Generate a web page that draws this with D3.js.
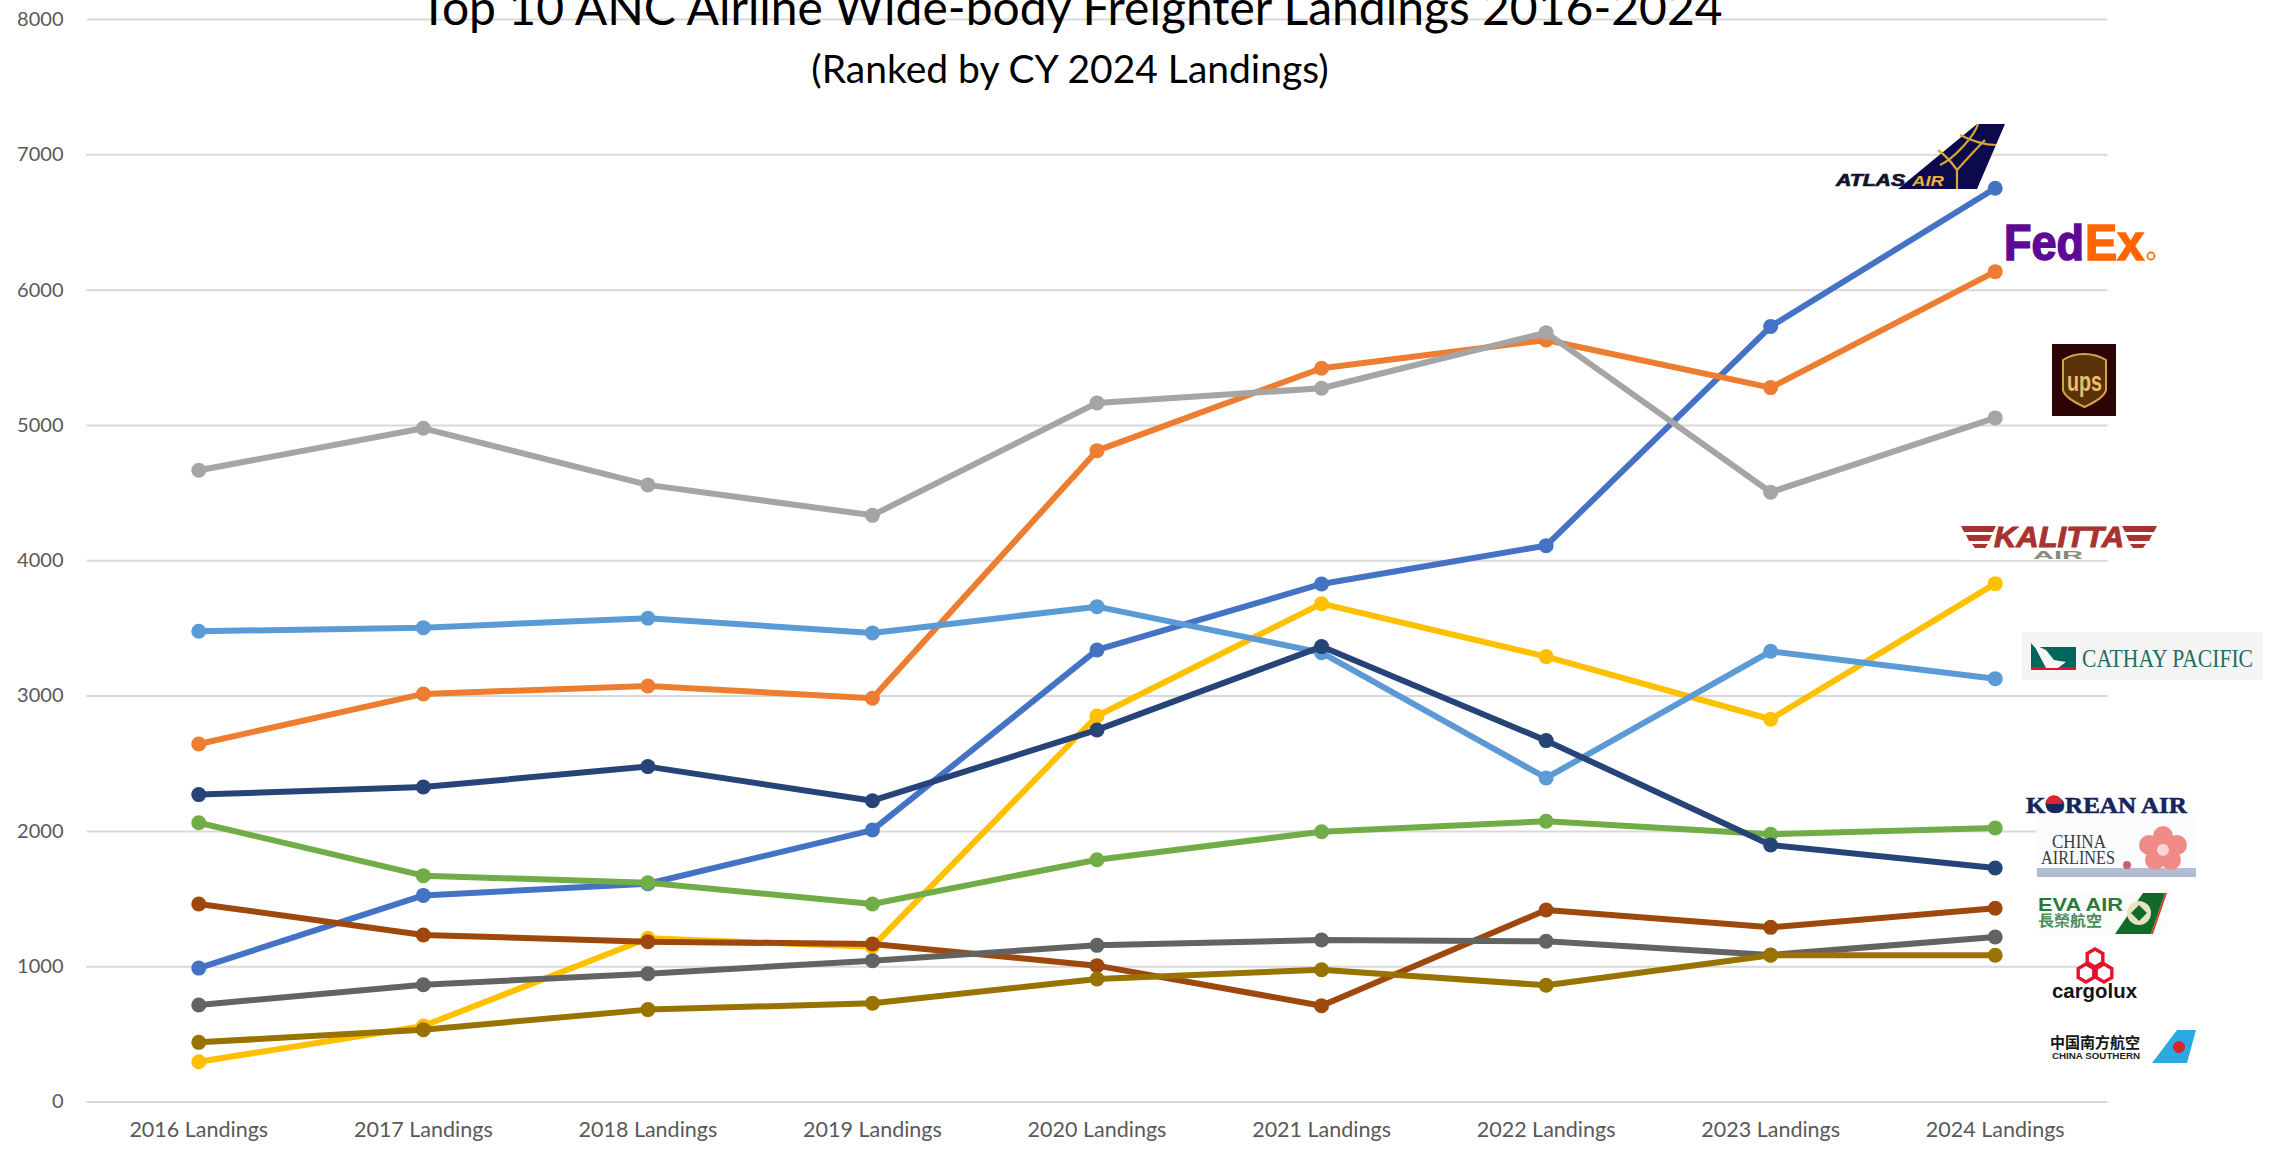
<!DOCTYPE html>
<html>
<head>
<meta charset="utf-8">
<title>Top 10 ANC Airline Wide-body Freighter Landings 2016-2024</title>
<script src="https://cdnjs.cloudflare.com/ajax/libs/d3/7.8.5/d3.min.js"></script>
<style>
html, body { margin: 0; padding: 0; background: #fff; overflow: hidden; }
svg { display: block; }
text { font-family: Lato, sans-serif; }
</style>
</head>
<body>
<svg width="2279" height="1153"></svg>
<script>
var years = ["2016 Landings", "2017 Landings", "2018 Landings", "2019 Landings", "2020 Landings", "2021 Landings", "2022 Landings", "2023 Landings", "2024 Landings"];
var yTicks = [0, 1000, 2000, 3000, 4000, 5000, 6000, 7000, 8000];

// drawn in this order
var atlas = [986, 1523, 1609, 2006, 3337, 3825, 4108, 5727, 6749];
var fedex = [2642, 3012, 3071, 2980, 4810, 5419, 5628, 5276, 6133];
var ups = [4665, 4975, 4557, 4332, 5163, 5271, 5682, 4503, 5052];
var kalitta = [294, 558, 1206, 1144, 2849, 3679, 3288, 2825, 3827];
var cathay = [3475, 3502, 3571, 3463, 3657, 3317, 2391, 3327, 3125];
var korean = [2060, 1669, 1617, 1460, 1787, 1994, 2071, 1975, 2021];
var chinaAirlines = [2268, 2324, 2475, 2223, 2746, 3362, 2667, 1896, 1726];
var eva = [1460, 1231, 1181, 1164, 1004, 708, 1415, 1287, 1428];
var cargolux = [713, 863, 945, 1041, 1154, 1194, 1184, 1083, 1216];
var chinaSouthern = [437, 531, 679, 726, 905, 974, 859, 1081, 1081];

var seriesNames = ["Atlas Air", "FedEx", "UPS", "Kalitta Air", "Cathay Pacific", "Korean Air", "China Airlines", "EVA Air", "Cargolux", "China Southern"];
var seriesValues = [atlas, fedex, ups, kalitta, cathay, korean, chinaAirlines, eva, cargolux, chinaSouthern];
var seriesColors = ["#4472c4", "#ed7d31", "#a5a5a5", "#ffc000", "#5b9bd5", "#70ad47", "#264478", "#9e480e", "#636363", "#997300"];

var svg = d3.select("svg");
var plotLeft = 86.5, plotRight = 2107.5, plotTop = 19, plotBottom = 1101.5;
var plotWidth = plotRight - plotLeft;

var x = d3.scaleBand().domain(years).range([plotLeft, plotRight]);
var y = d3.scaleLinear().domain([0, 8000]).range([plotBottom, plotTop]);

// gridlines come from the y axis ticks
var yAxis = svg.append("g")
    .attr("transform", "translate(" + plotLeft + ",0)")
    .call(d3.axisLeft(y).tickValues(yTicks).tickFormat(d3.format("d")).tickSize(-plotWidth).tickPadding(23));
yAxis.select(".domain").remove();
yAxis.selectAll("line").attr("stroke", "#d9d9d9").attr("stroke-width", 2);
yAxis.selectAll("text").style("font-size", "20px").style("fill", "#595959").style("font-family", "Lato, sans-serif");

var xAxis = svg.append("g")
    .attr("transform", "translate(0," + plotBottom + ")")
    .call(d3.axisBottom(x).tickSize(0).tickPadding(20));
xAxis.select(".domain").remove();
xAxis.selectAll("text").style("font-size", "21.5px").style("fill", "#595959").style("font-family", "Lato, sans-serif");

svg.append("text")
    .attr("x", 1071).attr("y", 25)
    .attr("text-anchor", "middle")
    .style("font-size", "48px")
    .text("Top 10 ANC Airline Wide-body Freighter Landings 2016-2024");

svg.append("text")
    .attr("x", 1070).attr("y", 83)
    .attr("text-anchor", "middle")
    .style("font-size", "39px")
    .text("(Ranked by CY 2024 Landings)");

var line = d3.line()
    .x(function(d, i) { return x(years[i]) + x.bandwidth() / 2; })
    .y(function(d) { return y(d); });

var series = svg.selectAll(".series")
    .data(seriesValues)
    .enter()
    .append("g")
    .attr("class", "series")
    .attr("data-name", function(d, i) { return seriesNames[i]; });

series.append("path")
    .attr("d", line)
    .attr("fill", "none")
    .attr("stroke", function(d, i) { return seriesColors[i]; })
    .attr("stroke-width", 6)
    .attr("stroke-linejoin", "round")
    .attr("stroke-linecap", "round");

series.each(function(values, s) {
    d3.select(this).selectAll("circle")
        .data(values)
        .enter()
        .append("circle")
        .attr("cx", function(d, i) { return x(years[i]) + x.bandwidth() / 2; })
        .attr("cy", function(d) { return y(d); })
        .attr("r", 7.5)
        .attr("fill", seriesColors[s]);
});

// airline logos, redrawn by hand next to the last points
var logos = svg.append("g").attr("class", "logos");

function poly(points, fill) {
    return logos.append("polygon").attr("points", points).attr("fill", fill);
}
function box(px, py, w, h, fill) {
    return logos.append("rect").attr("x", px).attr("y", py).attr("width", w).attr("height", h).attr("fill", fill);
}
function label(str, px, py, size, fill, font, weight, len) {
    var t = logos.append("text")
        .attr("x", px).attr("y", py)
        .style("font-family", font)
        .style("font-size", size + "px")
        .style("font-weight", weight)
        .style("fill", fill)
        .text(str);
    if (len) { t.attr("textLength", len).attr("lengthAdjust", "spacingAndGlyphs"); }
    return t;
}
function strokeLine(d, color, w) {
    return logos.append("path").attr("d", d).attr("fill", "none").attr("stroke", color).attr("stroke-width", w);
}
var sans = "'Liberation Sans', sans-serif";
var serif = "'Liberation Serif', serif";

// Atlas Air
poly("1898,189 1977,124 2005,124 1977,189", "#0c0a4c");
strokeLine("M1957,189 L1957,170 C1950,160 1945,155 1938,150 M1957,170 C1966,160 1975,150 1985,140 M1940,165 C1955,158 1975,135 1978,124 M1960,135 C1970,140 1985,145 1996,145", "#d9a62e", 2.2);
label("ATLAS", 1836, 186, 16, "#14122e", sans, "bold", 69).style("font-style", "italic").style("stroke", "#14122e").style("stroke-width", 0.7);
label("AIR", 1912, 186, 15, "#e8b23a", sans, "bold", 32).style("font-style", "italic");

// FedEx
label("Fed", 2004, 260, 50, "#5f0a96", sans, "bold", 80).style("stroke", "#5f0a96").style("stroke-width", 1.6);
label("Ex", 2085, 260, 50, "#ff6600", sans, "bold", 59).style("stroke", "#ff6600").style("stroke-width", 1.6);
logos.append("circle").attr("cx", 2151).attr("cy", 256).attr("r", 3.6).attr("fill", "none").attr("stroke", "#ff6600").attr("stroke-width", 1.6);

// UPS
box(2052, 344, 64, 72, "#2b0506");
logos.append("path")
    .attr("d", "M2063,360 C2075,352 2093,352 2106,360 L2106,390 C2104,398 2092,403 2084.5,407 C2077,403 2065,398 2063,390 Z")
    .attr("fill", "#5a3208").attr("stroke", "#d6a24a").attr("stroke-width", 2);
label("ups", 2067, 391, 27, "#e9bf6e", sans, "bold", 35);

// Kalitta Air
box(1959, 522, 199, 38, "#ffffff");
poly("1961,526 1996,526 1993,532 1964,532", "#a8322f");
poly("1966,535 1992,535 1989,541 1969,541", "#a8322f");
poly("1972,544 1988,544 1985,548 1975,548", "#a8322f");
poly("2157,526 2122,526 2125,532 2154,532", "#a8322f");
poly("2152,535 2126,535 2129,541 2149,541", "#a8322f");
poly("2146,544 2130,544 2133,548 2143,548", "#a8322f");
label("KALITTA", 1994, 547, 30, "#a8322f", sans, "bold", 130).style("font-style", "italic").style("stroke", "#a8322f").style("stroke-width", 1);
label("AIR", 2033, 559, 11, "#8a8a7a", sans, "bold", 50);

// Cathay Pacific
box(2022, 632, 241, 48, "#f5f5f5");
box(2031, 647, 45, 20, "#00655b");
box(2031, 667, 45, 3, "#e8102a");
poly("2031,643 2036,649 2046,668 2058,668 2066,662 2054,660 2046,650", "#f5f5f5");
poly("2031,643 2036,649 2033,667 2031,667", "#00655b");
label("CATHAY PACIFIC", 2082, 667, 25, "#1c6e66", serif, "normal", 171);

// Korean Air
label("KOREAN AIR", 2026, 813, 24, "#14265e", serif, "bold", 161).style("stroke", "#14265e").style("stroke-width", 0.6);
logos.append("circle").attr("cx", 2054).attr("cy", 804).attr("r", 8.5).attr("fill", "#14265e");
logos.append("path").attr("d", "M2045.5,804 A8.5,8.5 0 0 1 2062.5,804 Z").attr("fill", "#e2232e");

// China Airlines
box(2036, 814, 161, 65, "#fafcfd");
box(2037, 868, 159, 9, "#b3bdd2");
label("CHINA", 2052, 848, 18, "#3a3a40", serif, "normal", 54);
label("AIRLINES", 2041, 864, 18, "#3a3a40", serif, "normal", 74);
[[2163, 836], [2149, 845], [2177, 845], [2155, 860], [2171, 860]].forEach(function(p) {
    logos.append("circle").attr("cx", p[0]).attr("cy", p[1]).attr("r", 10).attr("fill", "#ef8a86");
});
logos.append("circle").attr("cx", 2163).attr("cy", 850).attr("r", 6).attr("fill", "#f8d5d3");
logos.append("circle").attr("cx", 2127).attr("cy", 865).attr("r", 4).attr("fill", "#c9606c");

// EVA Air
box(2038, 892, 129, 43, "#fbfdfb");
label("EVA AIR", 2038, 911, 19, "#2b7a3c", sans, "bold", 85);
label("長榮航空", 2038, 926, 15, "#4f8c5c", "'Noto Sans CJK TC', sans-serif", "bold", 64);
poly("2115,934 2143,893 2165,893 2151,934", "#0f6a2c");
poly("2165,893 2167,893 2153,934 2151,934", "#c8402e");
logos.append("circle").attr("cx", 2139).attr("cy", 913).attr("r", 12).attr("fill", "#e9e2c0");
poly("2139,905 2147,913 2139,921 2131,913", "#0f6a2c");

// Cargolux
box(2077, 945, 63, 58, "#ffffff");
[[2095, 958], [2086, 973], [2104, 973]].forEach(function(c) {
    var r = 9;
    var pts = d3.range(6).map(function(k) {
        var a = Math.PI / 3 * k + Math.PI / 6;
        return (c[0] + r * Math.cos(a)).toFixed(1) + "," + (c[1] + r * Math.sin(a)).toFixed(1);
    }).join(" ");
    poly(pts, "#ffffff").attr("stroke", "#e8112d").attr("stroke-width", 3.4);
});
label("cargolux", 2052, 998, 21, "#141414", sans, "bold", 85);

// China Southern
label("中国南方航空", 2050, 1048, 15, "#151515", "'Noto Sans CJK SC', sans-serif", "bold", 90);
label("CHINA SOUTHERN", 2052, 1059, 9, "#222222", sans, "bold", 88);
poly("2152,1063 2177,1030 2196,1030 2187,1063", "#29abe2");
logos.append("circle").attr("cx", 2179).attr("cy", 1047).attr("r", 6).attr("fill", "#d9232e");
</script>
</body>
</html>
